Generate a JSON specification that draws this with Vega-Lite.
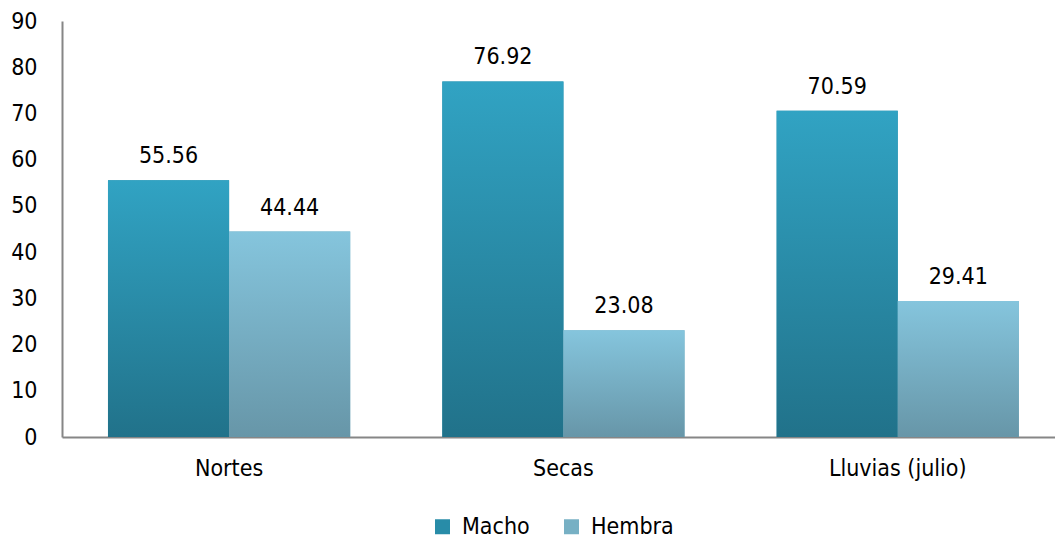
{
  "$schema": "https://vega.github.io/schema/vega-lite/v6.json",
  "autosize": {"type": "fit", "contains": "padding"},
  "width": 1055,
  "height": 542,
  "padding": {"left": 10, "top": 10, "right": 0, "bottom": 62},
  "background": "white",
  "config": {
    "view": {"stroke": null},
    "font": "DejaVu Sans Condensed, sans-serif",
    "axis": {"grid": false, "ticks": false, "domainColor": "#868686", "domainWidth": 2, "labelColor": "#000000", "labelFont": "DejaVu Sans Condensed, sans-serif", "title": null}
  },
  "data": {
    "values": [
      {"season": "Nortes", "sex": "Macho", "value": 55.56, "label": "55.56"},
      {"season": "Nortes", "sex": "Hembra", "value": 44.44, "label": "44.44"},
      {"season": "Secas", "sex": "Macho", "value": 76.92, "label": "76.92"},
      {"season": "Secas", "sex": "Hembra", "value": 23.08, "label": "23.08"},
      {"season": "Lluvias (julio)", "sex": "Macho", "value": 70.59, "label": "70.59"},
      {"season": "Lluvias (julio)", "sex": "Hembra", "value": 29.41, "label": "29.41"}
    ]
  },
  "encoding": {
    "x": {
      "field": "season", "type": "nominal", "sort": ["Nortes", "Secas", "Lluvias (julio)"],
      "scale": {"paddingInner": 0.2755, "paddingOuter": 0.1228, "align": 0.56},
      "axis": {"labelAngle": 0, "labelFontSize": 23, "labelPadding": 20}
    },
    "xOffset": {"field": "sex", "type": "nominal", "scale": {"domain": ["Macho", "Hembra"], "paddingInner": 0, "paddingOuter": 0}},
    "y": {
      "field": "value", "type": "quantitative",
      "scale": {"domain": [0, 90], "nice": false},
      "axis": {"values": [0, 10, 20, 30, 40, 50, 60, 70, 80, 90], "labelFontSize": 23, "labelPadding": 25}
    }
  },
  "layer": [
    {
      "mark": {"type": "bar"},
      "encoding": {
        "color": {
          "field": "sex", "type": "nominal",
          "scale": {"domain": ["Macho", "Hembra"], "range": ["#288ca8", "#77b0c4"]},
          "legend": {"orient": "none", "legendX": 369, "legendY": 494, "direction": "horizontal", "title": null, "symbolType": "square", "symbolSize": 225, "symbolStrokeWidth": 0, "labelFontSize": 23, "labelFont": "DejaVu Sans Condensed, sans-serif", "labelColor": "#000000", "columnPadding": 30, "symbolOffset": 0, "labelOffset": 8}
        }
      }
    },
    {
      "mark": {"type": "bar"},
      "encoding": {
        "color": {
          "condition": {
            "test": "datum.sex === 'Macho'",
            "value": {"gradient": "linear", "x1": 0, "y1": 0, "x2": 0, "y2": 1, "stops": [{"offset": 0, "color": "#31a3c3"}, {"offset": 1, "color": "#21728a"}]}
          },
          "value": {"gradient": "linear", "x1": 0, "y1": 0, "x2": 0, "y2": 1, "stops": [{"offset": 0, "color": "#85c5dd"}, {"offset": 1, "color": "#6796a8"}]}
        }
      }
    },
    {
      "mark": {"type": "text", "baseline": "alphabetic", "dy": -17, "fontSize": 23, "color": "#000000"},
      "encoding": {"text": {"field": "label", "type": "nominal"}}
    }
  ]
}
